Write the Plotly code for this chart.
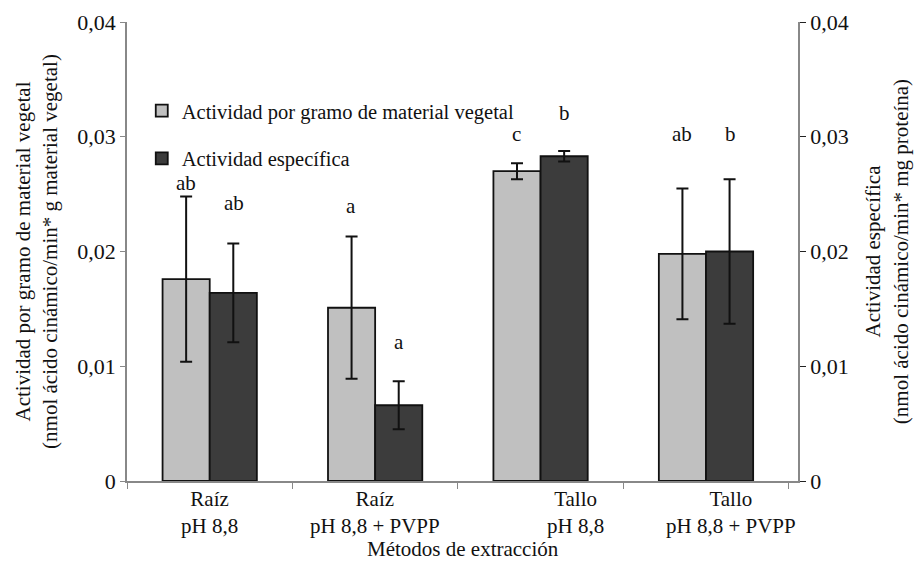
import plotly.graph_objects as go

categories = ["Raíz<br>pH 8,8", "Raíz<br>pH 8,8 + PVPP", "Tallo<br>pH 8,8", "Tallo<br>pH 8,8 + PVPP"]
cat_ids = ["c1", "c2", "c3", "c4"]
x_title = "Métodos de extracción"

series_names = ["Actividad por gramo de material vegetal", "Actividad específica"]
act_gramo = [0.0176, 0.0151, 0.0270, 0.0198]
act_gramo_err = [0.0072, 0.0062, 0.0007, 0.0057]
act_especifica = [0.0164, 0.0066, 0.0283, 0.0200]
act_especifica_err = [0.0043, 0.0021, 0.00045, 0.0063]

letters_gramo = ["ab", "a", "c", "ab"]
letters_gramo_y = [0.0260, 0.0240, 0.0302, 0.0302]
letters_esp = ["ab", "a", "b", "b"]
letters_esp_y = [0.0242, 0.0121, 0.0321, 0.0302]

tick_vals = [0, 0.01, 0.02, 0.03, 0.04]
tick_text = ["0", "0,01", "0,02", "0,03", "0,04"]

FONT = "Liberation Serif"
FS = 21

fig = go.Figure()
fig.add_trace(go.Bar(
    x=cat_ids, y=act_gramo, name=series_names[0],
    marker=dict(color="#C0C0C0", line=dict(color="#111111", width=1.8)),
    error_y=dict(type="data", array=act_gramo_err, color="#111111", thickness=2, width=6),
    offsetgroup="1", legendgroup="g1", yaxis="y",
))
fig.add_trace(go.Bar(
    x=cat_ids, y=act_especifica, name=series_names[1],
    marker=dict(color="#3C3C3C", line=dict(color="#111111", width=1.8)),
    error_y=dict(type="data", array=act_especifica_err, color="#111111", thickness=2, width=6),
    offsetgroup="2", legendgroup="g2", yaxis="y2",
))

annotations = []
for i, c in enumerate(cat_ids):
    annotations.append(dict(x=c, y=letters_gramo_y[i], text=letters_gramo[i], xref="x", yref="y",
                            showarrow=False, xshift=-24, font=dict(family=FONT, size=FS, color="#111")))
    annotations.append(dict(x=c, y=letters_esp_y[i], text=letters_esp[i], xref="x", yref="y",
                            showarrow=False, xshift=24, font=dict(family=FONT, size=FS, color="#111")))

label_shift = [0, 0, 35, 25]
for i, c in enumerate(cat_ids):
    annotations.append(dict(x=c, y=0, text=categories[i], xref="x", yref="y", showarrow=False,
                            yanchor="top", yshift=-4, xshift=label_shift[i],
                            font=dict(family=FONT, size=FS, color="#111")))

# x-axis title
annotations.append(dict(x=0.5, y=-0.148, xref="paper", yref="paper", text=x_title, showarrow=False,
                        xanchor="center", yanchor="middle", font=dict(family=FONT, size=FS, color="#111")))

fig.update_layout(
    width=914, height=561,
    margin=dict(l=127, r=116, t=22, b=80),
    paper_bgcolor="white", plot_bgcolor="white",
    barmode="group", bargap=0.43, bargroupgap=0,
    font=dict(family=FONT, size=FS, color="#111"),
    showlegend=True,
    legend=dict(x=0.022, y=0.85, xanchor="left", yanchor="top", bgcolor="rgba(0,0,0,0)",
                font=dict(family=FONT, size=20.5), traceorder="grouped", tracegroupgap=18,
                itemwidth=30),
    annotations=annotations,
    xaxis=dict(showline=True, linecolor="#888", linewidth=1.5, ticks="outside", tickson="boundaries",
               ticklen=6, tickcolor="#888", showticklabels=False, showgrid=False, automargin=False),
    yaxis=dict(range=[0, 0.04], tickvals=tick_vals, ticktext=tick_text, showline=True,
               linecolor="#888", linewidth=1.5, ticks="outside", ticklen=5, tickcolor="#888",
               showgrid=False, zeroline=False, tickfont=dict(size=FS + 1), automargin=False,
               title=dict(text="Actividad por gramo de material vegetal<br>(nmol ácido cinámico/min* g material vegetal)",
                          standoff=14, font=dict(size=FS))),
    yaxis2=dict(range=[0, 0.04], tickvals=tick_vals, ticktext=tick_text, overlaying="y", side="right",
                showline=True, linecolor="#888", linewidth=1.5, ticks="outside", ticklen=6,
                tickcolor="#222", showgrid=False, zeroline=False, tickfont=dict(size=FS + 1),
                automargin=False,
                title=dict(text="Actividad específica<br>(nmol ácido cinámico/min* mg proteína)",
                           standoff=18, font=dict(size=FS))),
)

fig.write_html("out.html")
